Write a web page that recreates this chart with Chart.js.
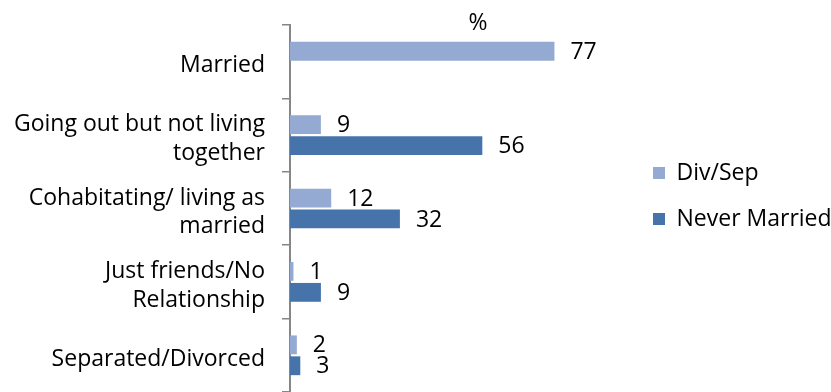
<!DOCTYPE html>
<html>
<head>
<meta charset="utf-8">
<script src="https://cdn.jsdelivr.net/npm/chart.js@4"></script>
<style>
	body { margin: 0; background: #fff; }
	canvas { display: block; }
</style>
</head>
<body>
<canvas id="chart" width="831" height="392"></canvas>
<script>
var categories = [
	'Married',
	['Going out but not living', 'together'],
	['Cohabitating/ living as', 'married'],
	['Just friends/No', 'Relationship'],
	'Separated/Divorced'
];
var divSep = [77, 9, 12, 1, 2];
var neverMarried = [null, 56, 32, 9, 3];
var xMax = 99;

var FONT = 'Open Sans';
var FONT_SIZE = 23;

// value labels at the end of every bar
const barValueLabels = {
	id: 'barValueLabels',
	afterDatasetsDraw(chart) {
		const ctx = chart.ctx;
		ctx.save();
		ctx.font = FONT_SIZE + 'px "' + FONT + '"';
		ctx.fillStyle = '#000';
		ctx.textAlign = 'left';
		ctx.textBaseline = 'middle';
		chart.data.datasets.forEach((dataset, i) => {
			const meta = chart.getDatasetMeta(i);
			meta.data.forEach((bar, j) => {
				const v = dataset.data[j];
				if (v === null || v === undefined) return;
				ctx.fillText(String(v), bar.x + 16, bar.y + 1);
			});
		});
		ctx.restore();
	}
};

var ctx = document.getElementById('chart').getContext('2d');
var chart = new Chart(ctx, {
	type: 'bar',
	data: {
		labels: categories,
		datasets: [{
			label: 'Div/Sep',
			data: divSep,
			backgroundColor: '#95AAD3',
			borderWidth: 0,
		}, {
			label: 'Never Married',
			data: neverMarried,
			backgroundColor: '#4673AA',
			borderWidth: 0,
		}]
	},
	options: {
		responsive: false,
		animation: false,
		indexAxis: 'y',
		categoryPercentage: 0.57,
		barPercentage: 0.9,
		layout: {
			padding: { top: 0, left: 0, bottom: 0, right: -9 },
		},
		scales: {
			x: {
				position: 'top',
				min: 0, max: xMax,
				ticks: { display: false },
				grid: { display: false, drawTicks: false },
				border: { display: false },
				title: {
					display: true,
					text: '      %',
					color: '#000',
					font: { family: FONT, size: FONT_SIZE, lineHeight: 1 },
					padding: { top: 12, bottom: -10 },
				},
			},
			y: {
				afterFit: function(axis) {
					axis.width = 290;
					// labels sit inside their categories, no extra room needed
					axis.paddingTop = 0;
					axis.paddingBottom = 0;
				},
				ticks: {
					color: '#000',
					padding: 17,
					labelOffset: 4,
					font: { family: FONT, size: FONT_SIZE, lineHeight: 1.25 },
				},
				grid: {
					drawOnChartArea: false,
					color: '#868686',
					lineWidth: 1.5,
					tickLength: 8,
				},
				border: { color: '#868686', width: 2 },
			},
		},
		plugins: {
			legend: {
				position: 'right',
				labels: {
					color: '#000',
					boxWidth: 12,
					boxHeight: 12,
					padding: 23,
					font: { family: FONT, size: FONT_SIZE },
				},
			},
			tooltip: { enabled: false },
		},
	},
	plugins: [barValueLabels],
});
</script>
</body>
</html>
